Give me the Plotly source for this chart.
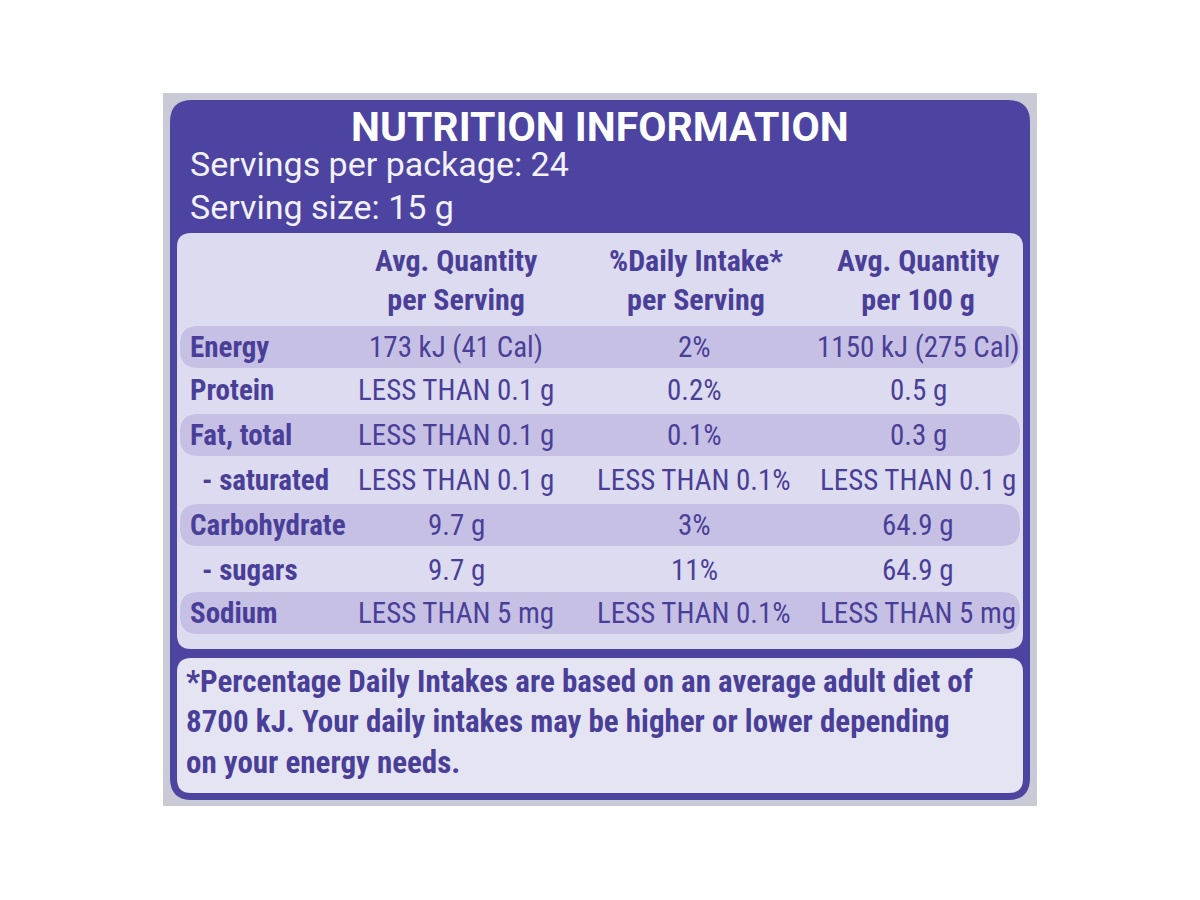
import plotly.graph_objects as go

title = "NUTRITION INFORMATION"
serving_lines = ["Servings per package: 24", "Serving size: 15 g"]
col_headers = ["Avg. Quantity<br>per Serving", "%Daily Intake*<br>per Serving", "Avg. Quantity<br>per 100 g"]
nutrients = ["Energy", "Protein", "Fat, total", "  - saturated", "Carbohydrate", "  - sugars", "Sodium"]
per_serving = ["173 kJ (41 Cal)", "LESS THAN 0.1 g", "LESS THAN 0.1 g", "LESS THAN 0.1 g", "9.7 g", "9.7 g", "LESS THAN 5 mg"]
daily_intake = ["2%", "0.2%", "0.1%", "LESS THAN 0.1%", "3%", "11%", "LESS THAN 0.1%"]
per_100g = ["1150 kJ (275 Cal)", "0.5 g", "0.3 g", "LESS THAN 0.1 g", "64.9 g", "64.9 g", "LESS THAN 5 mg"]
footnote = ("*Percentage Daily Intakes are based on an average adult diet of<br>"
            "8700 kJ. Your daily intakes may be higher or lower depending<br>"
            "on your energy needs.")

PURPLE = "#4d43a0"
TXT = "#4a3f98"
FONT = "Liberation Sans Narrow, Roboto Condensed, Roboto, sans-serif"

def rrect(x0, y0, x1, y1, r, color):
    p = (f"M{x0+r},{y0} L{x1-r},{y0} Q{x1},{y0} {x1},{y0+r} L{x1},{y1-r} Q{x1},{y1} {x1-r},{y1} "
         f"L{x0+r},{y1} Q{x0},{y1} {x0},{y1-r} L{x0},{y0+r} Q{x0},{y0} {x0+r},{y0} Z")
    return dict(type="path", path=p, fillcolor=color, line=dict(width=0), layer="below")

shapes = [
    dict(type="rect", x0=163, y0=93, x1=1037, y1=806, fillcolor="#c9cad6", line=dict(width=0), layer="below"),
    rrect(170, 100, 1030, 800, 22, PURPLE),
    rrect(177, 233, 1023, 649, 14, "#dddbef"),
    rrect(177, 658, 1023, 793, 14, "#e5e4f3"),
]
row_y = [347, 390, 435, 480, 525, 570, 613]
for i in (0, 2, 4, 6):
    y = row_y[i]
    shapes.append(rrect(180, y - 21, 1020, y + 21, 18, "#c6c1e4"))

ann = [dict(x=600, y=127, text=f"<b>{title}</b>", font=dict(size=41, color="white", family="Roboto, sans-serif"),
            showarrow=False, xanchor="center", yanchor="middle")]
for j, s in enumerate(serving_lines):
    ann.append(dict(x=188, y=164 + j * 43, text=s, font=dict(size=34, color="#f2f1fa", family="Roboto, sans-serif"),
                    showarrow=False, xanchor="left", yanchor="middle"))
for cx, h in zip([456, 696, 918], col_headers):
    ann.append(dict(x=cx, y=280, text=f"<b>{h}</b>", font=dict(size=30, color=TXT, family=FONT),
                    showarrow=False, xanchor="center", yanchor="middle"))
for i, y in enumerate(row_y):
    name = nutrients[i]
    ann.append(dict(x=188 if not name.startswith(" ") else 200, y=y, text=f"<b>{name.strip()}</b>",
                    font=dict(size=29, color=TXT, family=FONT), showarrow=False, xanchor="left", yanchor="middle"))
    for cx, col in zip([456, 694, 918], [per_serving, daily_intake, per_100g]):
        ann.append(dict(x=cx, y=y, text=col[i], font=dict(size=29, color=TXT, family=FONT),
                        showarrow=False, xanchor="center", yanchor="middle"))
ann.append(dict(x=184, y=722, text=f"<b>{footnote}</b>", font=dict(size=31, color=TXT, family=FONT),
                showarrow=False, xanchor="left", yanchor="middle", align="left"))

fig = go.Figure()
fig.update_layout(width=1200, height=900, margin=dict(l=0, r=0, t=0, b=0),
                  paper_bgcolor="white", plot_bgcolor="white",
                  xaxis=dict(range=[8, 1208], visible=False, fixedrange=True),
                  yaxis=dict(range=[908, 8], visible=False, fixedrange=True),
                  shapes=shapes, annotations=ann, showlegend=False)
fig.write_html("out.html")
